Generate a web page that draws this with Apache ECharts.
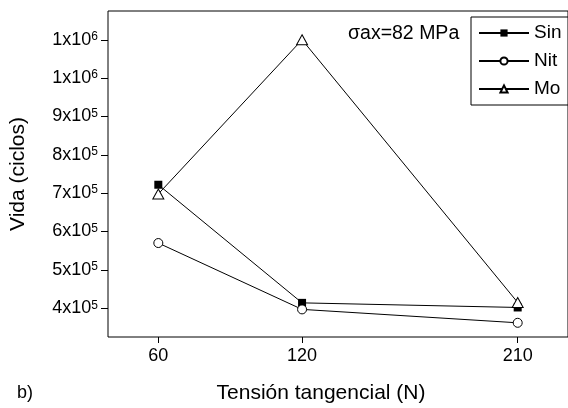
<!DOCTYPE html>
<html>
<head>
<meta charset="utf-8">
<script src="https://cdn.jsdelivr.net/npm/echarts@6/dist/echarts.min.js"></script>
<style>
html,body{margin:0;padding:0;background:#fff;}
#main{width:568px;height:408px;}
</style>
</head>
<body>
<div id="main"></div>
<script>
// valores
var tension = [60, 120, 210];
var vidaSin = [722000, 414000, 402000];
var vidaNit = [570000, 397000, 362000];
var vidaMo = [698000, 1100000, 415000];

var xTicks = [60, 120, 210];
var yTicks = [400000, 500000, 600000, 700000, 800000, 900000, 1000000, 1100000];
var yTickLabels = ['4x10^5', '5x10^5', '6x10^5', '7x10^5', '8x10^5', '9x10^5', '1x10^6', '1x10^6'];

var xMin = 39, xMax = 231;
var yMin = 325000, yMax = 1175000, yStep = 25000;

// ejes auxiliares de categorias: solo sirven para poner las marcas donde estan en la figura
var xCats = [];
for (var v = xMin; v <= xMax; v++) xCats.push(v);
var yCats = [];
for (var w = yMin; w <= yMax; w += yStep) yCats.push(w);

function pares(ys) {
    return tension.map(function (t, i) { return [t, ys[i]]; });
}

var fuente = '"Liberation Sans", Arial, sans-serif';
var negro = '#000';

var myChart = echarts.init(document.getElementById('main'));

var option = {
    animation: false,
    backgroundColor: '#fff',
    textStyle: { fontFamily: fuente, color: negro },
    grid: {
        left: 108, top: 11, right: -9, bottom: 71,
        show: true, borderColor: negro, borderWidth: 1, backgroundColor: 'transparent'
    },
    legend: {
        orient: 'vertical',
        left: 471, top: 17,
        data: ['Sin', 'Nit', 'Mo'],
        itemWidth: 50, itemHeight: 9, itemGap: 8,
        padding: [6, 30, 6, 7],
        borderColor: negro, borderWidth: 1,
        selectedMode: false,
        textStyle: { fontFamily: fuente, fontSize: 19, color: negro, lineHeight: 20 }
    },
    xAxis: [{
        type: 'value', min: xMin, max: xMax,
        axisLine: { show: false }, axisTick: { show: false },
        axisLabel: { show: false }, splitLine: { show: false }
    }, {
        type: 'category', position: 'bottom', boundaryGap: false, data: xCats,
        axisLine: { show: false },
        axisTick: {
            show: true, length: 6, lineStyle: { color: negro },
            interval: function (i, val) { return xTicks.indexOf(Number(val)) >= 0; }
        },
        axisLabel: {
            margin: 10, color: negro, fontFamily: fuente, fontSize: 18,
            interval: function (i, val) { return xTicks.indexOf(Number(val)) >= 0; }
        },
        splitLine: { show: false }
    }],
    yAxis: [{
        type: 'value', min: yMin, max: yMax,
        axisLine: { show: false }, axisTick: { show: false },
        axisLabel: { show: false }, splitLine: { show: false },
        name: 'Vida (ciclos)', nameLocation: 'middle', nameGap: 79, nameRotate: 90,
        nameTextStyle: { fontFamily: fuente, fontSize: 21, color: negro }
    }, {
        type: 'category', position: 'left', boundaryGap: false, data: yCats,
        axisLine: { show: false },
        axisTick: {
            show: true, length: 7, lineStyle: { color: negro },
            interval: function (i, val) { return yTicks.indexOf(Number(val)) >= 0; }
        },
        axisLabel: {
            margin: 10, color: negro, fontFamily: fuente, fontSize: 18,
            interval: function (i, val) { return yTicks.indexOf(Number(val)) >= 0; },
            formatter: function (val) {
                var k = yTicks.indexOf(Number(val));
                if (k < 0) return '';
                var p = yTickLabels[k].split('^');
                return '{b|' + p[0] + '}{s|' + p[1] + '}';
            },
            rich: {
                b: { fontFamily: fuente, fontSize: 18, lineHeight: 18, color: negro },
                s: { fontFamily: fuente, fontSize: 12, lineHeight: 12, color: negro,
                     verticalAlign: 'top', padding: [0, 0, 24, 0] }
            }
        },
        splitLine: { show: false }
    }],
    graphic: [
        { type: 'text', x: 321, y: 393,
          style: { text: 'Tensión tangencial (N)', fontFamily: fuente, fontSize: 21, fill: negro,
                   align: 'center', verticalAlign: 'middle' } },
        { type: 'text', x: 17, y: 393,
          style: { text: 'b)', fontFamily: fuente, fontSize: 18, fill: negro,
                   align: 'left', verticalAlign: 'middle' } },
        { type: 'text', x: 348, y: 34,
          style: { text: 'σax=82 MPa', fontFamily: fuente, fontSize: 19.5, fill: negro,
                   align: 'left', verticalAlign: 'middle' } }
    ],
    series: [{
        name: 'Sin', type: 'line', data: pares(vidaSin),
        symbol: 'rect', symbolSize: 8,
        itemStyle: { color: negro },
        lineStyle: { color: negro, width: 1 },
        emphasis: { disabled: true }
    }, {
        name: 'Nit', type: 'line', data: pares(vidaNit),
        symbol: 'circle', symbolSize: 9,
        itemStyle: { color: '#fff', borderColor: negro, borderWidth: 1 },
        lineStyle: { color: negro, width: 1 },
        emphasis: { disabled: true }
    }, {
        name: 'Mo', type: 'line', data: pares(vidaMo),
        symbol: 'triangle', symbolSize: [11, 10],
        itemStyle: { color: '#fff', borderColor: negro, borderWidth: 1 },
        lineStyle: { color: negro, width: 1 },
        emphasis: { disabled: true }
    }]
};

myChart.setOption(option);
</script>
</body>
</html>
